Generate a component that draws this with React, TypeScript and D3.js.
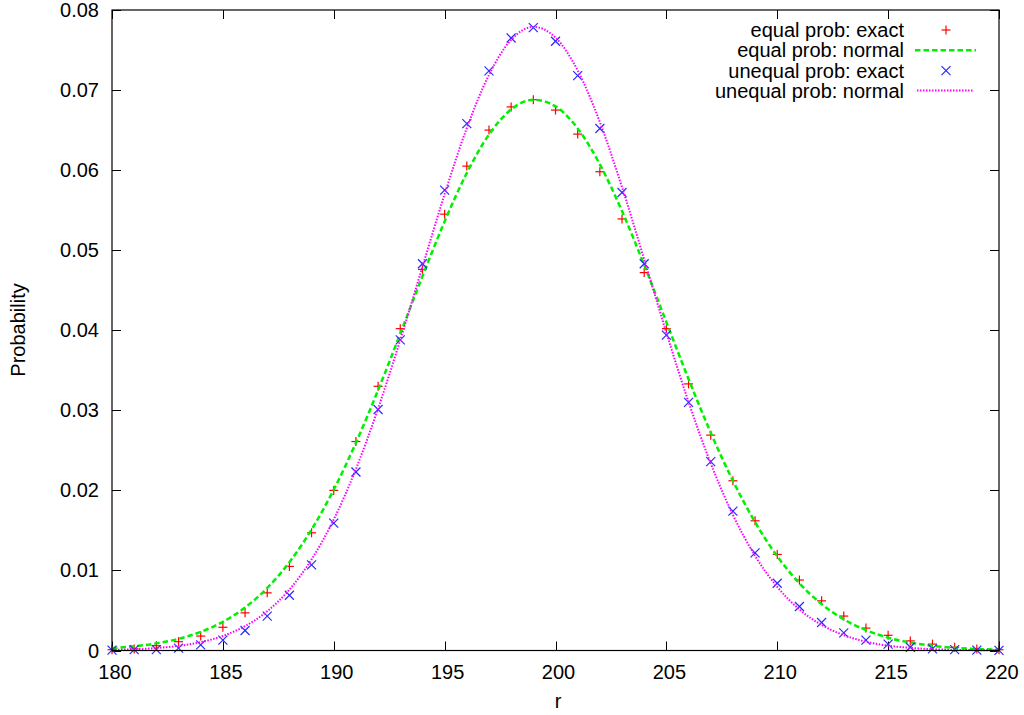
import React from "react";
import * as d3 from "d3";

const rValues: number[] = d3.range(180, 221);

const equalExact: number[] = [
  0.0001, 0.0002, 0.0006, 0.0011, 0.0018, 0.0029, 0.0047, 0.0072, 0.0105, 0.0147,
  0.02, 0.0261, 0.033, 0.0402, 0.0476, 0.0545, 0.0605, 0.065, 0.0679, 0.0688,
  0.0675, 0.0645, 0.0598, 0.0539, 0.0472, 0.0402, 0.0333, 0.0269, 0.0212, 0.0162,
  0.012, 0.0088, 0.0062, 0.0043, 0.0028, 0.0019, 0.0012, 0.0008, 0.0004, 0.0002,
  0.0001,
];

const equalNormal: number[] = [
  0.0003, 0.00053, 0.00089, 0.00146, 0.00232, 0.00358, 0.00537, 0.00781, 0.01103, 0.01511,
  0.02009, 0.02594, 0.03252, 0.03957, 0.04674, 0.05359, 0.05964, 0.06444, 0.06758, 0.06879,
  0.06797, 0.06521, 0.06072, 0.05488, 0.04815, 0.04101, 0.03391, 0.02721, 0.0212, 0.01603,
  0.01177, 0.00839, 0.0058, 0.00389, 0.00254, 0.00161, 0.00099, 0.00059, 0.00034, 0.00019,
  0.0001,
];

const unequalExact: number[] = [
  0.00005, 0.0001, 0.0001, 0.0003, 0.0007, 0.0013, 0.0025, 0.0043, 0.0069, 0.0107,
  0.0159, 0.0223, 0.0301, 0.0388, 0.0483, 0.0575, 0.0658, 0.0724, 0.0765, 0.0778,
  0.0761, 0.0718, 0.0652, 0.0572, 0.0483, 0.0394, 0.031, 0.0236, 0.0174, 0.0122,
  0.0084, 0.0055, 0.0035, 0.0022, 0.0013, 0.0008, 0.0004, 0.0002, 0.0001, 0.00005,
  0.00002,
];

const unequalNormal: number[] = [
  0.00008, 0.00016, 0.00031, 0.00058, 0.00104, 0.00182, 0.00304, 0.0049, 0.00761, 0.01138,
  0.01637, 0.02267, 0.03023, 0.0388, 0.04793, 0.057, 0.06525, 0.0719, 0.07627, 0.07789,
  0.07656, 0.07245, 0.066, 0.05787, 0.04885, 0.03969, 0.03104, 0.02338, 0.01694, 0.01183,
  0.00794, 0.00513, 0.00319, 0.00192, 0.0011, 0.00061, 0.00033, 0.00017, 0.00008, 0.00004,
  0.00002,
];

const xTicks: number[] = [180, 185, 190, 195, 200, 205, 210, 215, 220];
const yTicks: number[] = [0, 0.01, 0.02, 0.03, 0.04, 0.05, 0.06, 0.07, 0.08];
const yTickLabels: string[] = ["0", "0.01", "0.02", "0.03", "0.04", "0.05", "0.06", "0.07", "0.08"];

const legendLabels: string[] = [
  "equal prob: exact",
  "equal prob: normal",
  "unequal prob: exact",
  "unequal prob: normal",
];

const W = 1024;
const H = 715;
const L = 112;
const R = 999;
const T = 10;
const B = 650.5;
const FONT = "'Liberation Sans', Arial, Helvetica, sans-serif";

export default function App() {
  const x = d3.scaleLinear().domain([180, 220]).range([L, R]);
  const y = d3.scaleLinear().domain([0, 0.08]).range([B, T]);

  const line = d3
    .line<number>()
    .x((_, i) => x(rValues[i]))
    .y((d) => y(d))
    .curve(d3.curveMonotoneX);

  const plus = (cx: number, cy: number, s: number, color: string, key: string) => (
    <g key={key} stroke={color} strokeWidth={1.2}>
      <line x1={cx - s} x2={cx + s} y1={cy} y2={cy} />
      <line x1={cx} x2={cx} y1={cy - s} y2={cy + s} />
    </g>
  );
  const cross = (cx: number, cy: number, s: number, color: string, key: string) => (
    <g key={key} stroke={color} strokeWidth={1.2}>
      <line x1={cx - s} x2={cx + s} y1={cy - s} y2={cy + s} />
      <line x1={cx - s} x2={cx + s} y1={cy + s} y2={cy - s} />
    </g>
  );

  const RED = "#ff0000";
  const GREEN = "#00f000";
  const BLUE = "#2a2aff";
  const MAGENTA = "#ff00ff";
  const GREEN_DASH = "5.5,3";
  const legendRowY = [30, 50.3, 70.6, 90.5];
  const legendTextX = 904;
  const sampleX1 = 915;
  const sampleX2 = 976;
  const sampleCX = 946;

  return (
    <svg
      width={W}
      height={H}
      viewBox={`0 0 ${W} ${H}`}
      style={{ position: "absolute", left: 0, top: 0, background: "#fff" }}
      fontFamily={FONT}
    >
      <rect x={0} y={0} width={W} height={H} fill="#fff" />

      {/* ticks */}
      <g stroke="#000" strokeWidth={1}>
        {yTicks.map((t, i) => (
          <g key={`yt${i}`}>
            <line x1={L} x2={L + 9} y1={Math.round(y(t)) + 0.5} y2={Math.round(y(t)) + 0.5} />
            <line x1={R - 9} x2={R} y1={Math.round(y(t)) + 0.5} y2={Math.round(y(t)) + 0.5} />
          </g>
        ))}
        {xTicks.map((t, i) => (
          <g key={`xt${i}`}>
            <line x1={Math.round(x(t)) + 0.5} x2={Math.round(x(t)) + 0.5} y1={B} y2={B - 9} />
            <line x1={Math.round(x(t)) + 0.5} x2={Math.round(x(t)) + 0.5} y1={T} y2={T + 9} />
          </g>
        ))}
      </g>

      {/* tick labels */}
      <g fontSize={20} fill="#000">
        {yTicks.map((t, i) => (
          <text key={`yl${i}`} x={L - 13} y={y(t)} dy="0.35em" textAnchor="end">
            {yTickLabels[i]}
          </text>
        ))}
        {xTicks.map((t, i) => (
          <text key={`xl${i}`} x={x(t) + 3} y={679} textAnchor="middle">
            {String(t)}
          </text>
        ))}
        <text x={558} y={708} textAnchor="middle">r</text>
        <text transform="translate(24.5,330) rotate(-90)" textAnchor="middle">
          Probability
        </text>
      </g>

      {/* series: equal exact */}
      <g>
        {equalExact.map((v, i) => plus(x(rValues[i]), y(v), 4.5, RED, `ee${i}`))}
      </g>
      {/* equal normal */}
      <path d={line(equalNormal) || ""} fill="none" stroke={GREEN} strokeWidth={2.5} strokeDasharray={GREEN_DASH} />
      {/* unequal exact */}
      <g>
        {unequalExact.map((v, i) => cross(x(rValues[i]), y(v), 4.5, BLUE, `ue${i}`))}
      </g>
      {/* unequal normal */}
      <path d={line(unequalNormal) || ""} fill="none" stroke={MAGENTA} strokeWidth={2} strokeDasharray="1.5,1.5" />

      {/* legend */}
      <g fontSize={20} fill="#000">
        {legendLabels.map((lab, i) => (
          <text key={`lg${i}`} x={legendTextX} y={legendRowY[i]} dy="0.35em" textAnchor="end">
            {lab}
          </text>
        ))}
      </g>
      {plus(sampleCX, legendRowY[0], 4.5, RED, "lg0m")}
      <line x1={sampleX1} x2={sampleX2} y1={legendRowY[1]} y2={legendRowY[1]} stroke={GREEN} strokeWidth={2.5} strokeDasharray={GREEN_DASH} />
      {cross(sampleCX, legendRowY[2], 4.5, BLUE, "lg2m")}
      <line x1={sampleX1 + 2} x2={sampleX2 - 3} y1={legendRowY[3]} y2={legendRowY[3]} stroke={MAGENTA} strokeWidth={2} strokeDasharray="1.5,1.5" />

      {/* border */}
      <rect x={L} y={T} width={R - L} height={B - T} fill="none" stroke="#000" strokeWidth={1.2} />
    </svg>
  );
}
